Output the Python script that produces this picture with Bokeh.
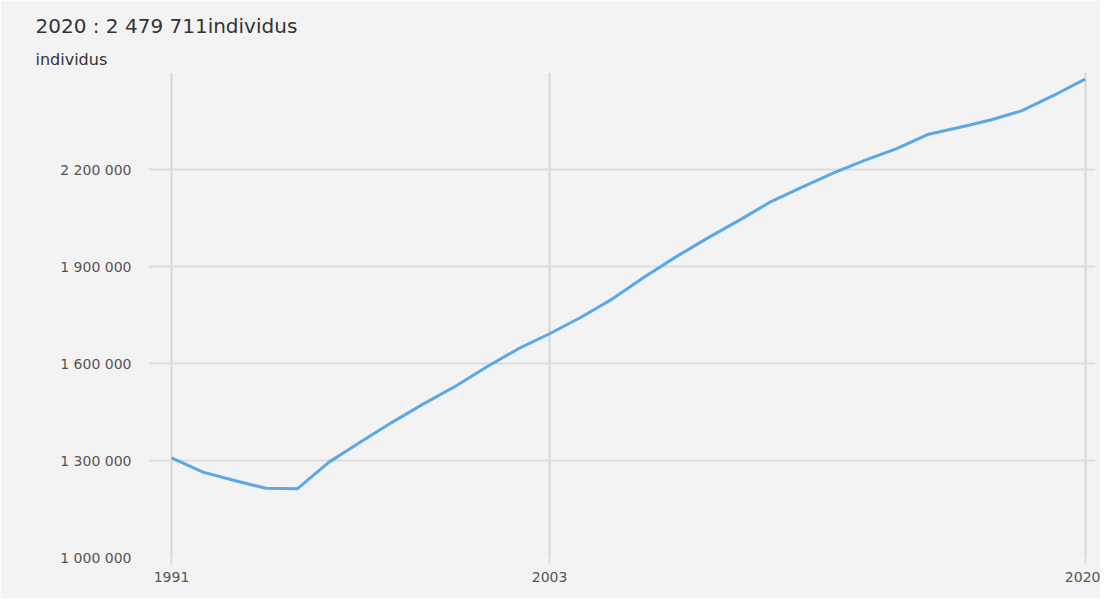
from bokeh.plotting import figure
from bokeh.models import FixedTicker, Range1d, Title
from bokeh.embed import file_html
from bokeh.resources import INLINE

years = list(range(1991, 2021))
population = [1308000, 1264000, 1238000, 1214000, 1213000, 1295000, 1357000,
              1418000, 1475000, 1529000, 1589000, 1645000, 1692000, 1743000,
              1800000, 1867000, 1929000, 1987000, 2042000, 2099000, 2145000,
              2189000, 2228000, 2264000, 2308000, 2330000, 2353000, 2382000,
              2429000, 2479711]
y_ticks = [1000000, 1300000, 1600000, 1900000, 2200000]
y_tick_labels = ["1 000 000", "1 300 000", "1 600 000", "1 900 000", "2 200 000"]
x_ticks = [1991, 2003, 2020]
x_tick_labels = ["1991", "2003", "2020"]
title_text = "2020 : 2 479 711individus"
unit_text = "individus"

BG = "#f3f3f3"
GRID = "#dddddd"
FONT = "DejaVu Sans"

p = figure(width=1100, height=598, output_backend="svg", toolbar_location=None,
           x_range=Range1d(1990.27, 2020.33), y_range=Range1d(1000000, 2500000),
           min_border_left=148, min_border_right=5, min_border_top=72,
           min_border_bottom=41, title=None)
p.background_fill_color = BG
p.border_fill_color = BG
p.outline_line_color = None

p.line(years, population, line_color="#5ba8e8", line_width=3)

p.xaxis.ticker = FixedTicker(ticks=x_ticks)
p.xaxis.major_label_overrides = {t: l for t, l in zip(x_ticks, x_tick_labels)}
p.yaxis.ticker = FixedTicker(ticks=y_ticks)
p.yaxis.major_label_overrides = {t: l for t, l in zip(y_ticks, y_tick_labels)}

for ax in (p.xaxis, p.yaxis):
    ax.axis_line_color = None
    ax.minor_tick_line_color = None
    ax.major_label_text_font = FONT
    ax.major_label_text_font_size = "14px"
    ax.major_label_text_color = "#555555"

p.yaxis.major_tick_line_color = None
p.yaxis.major_label_standoff = 11
p.xaxis.major_tick_line_color = GRID
p.xaxis.major_tick_line_width = 2
p.xaxis.major_tick_in = 0
p.xaxis.major_tick_out = 7
p.xaxis.major_label_standoff = 7

p.xgrid.ticker = FixedTicker(ticks=x_ticks)
p.ygrid.ticker = FixedTicker(ticks=y_ticks)
p.xgrid.grid_line_color = "#d6d6d6"
p.xgrid.grid_line_width = 2
p.ygrid.grid_line_color = GRID
p.ygrid.grid_line_width = 2

# unit label first (closest to the frame), then the main title above it
p.add_layout(Title(text=unit_text, align="left", offset=-113, standoff=8,
                   text_font=FONT, text_font_size="16px",
                   text_font_style="normal", text_color="#333333"), "above")
p.add_layout(Title(text=title_text, align="left", offset=-113, standoff=11,
                   text_font=FONT, text_font_size="20px",
                   text_font_style="normal", text_color="#333333"), "above")

open("out.html", "w").write(file_html(p, INLINE))
